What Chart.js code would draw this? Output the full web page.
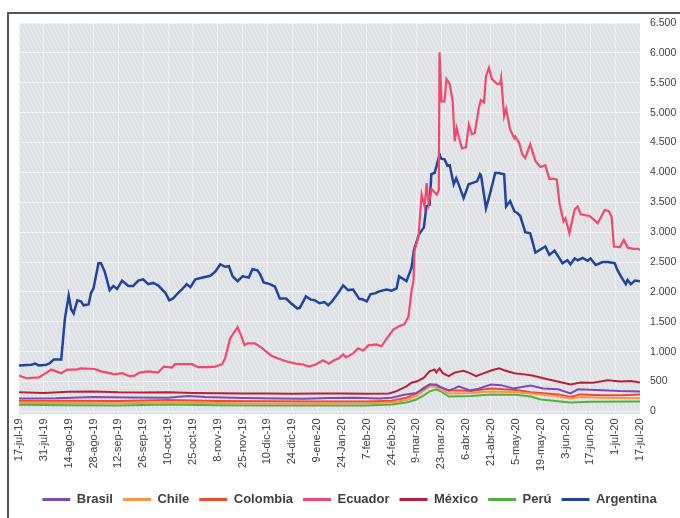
<!DOCTYPE html>
<html>
<head>
<meta charset="utf-8">
<script src="https://cdn.jsdelivr.net/npm/chart.js@4.4.0/dist/chart.umd.min.js"></script>
<style>
  html, body { margin: 0; padding: 0; background: #fff; }
  #wrap { position: relative; width: 680px; height: 518px; overflow: hidden; }
  #frame { position: absolute; left: 7px; top: 12px; width: 700px; height: 540px;
           border-left: 2px solid #555; border-top: 2px solid #555; }
  canvas { position: absolute; left: 0; top: 0; }
</style>
</head>
<body>
<div id="wrap">
  <div id="frame"></div>
  <canvas id="chart" width="680" height="518"></canvas>
</div>
<script>
// --- etiquetas del eje X (cada 10 días hábiles) ---
const dateLabels = ['17-jul-19','31-jul-19','14-ago-19','28-ago-19','12-sep-19','26-sep-19','10-oct-19','25-oct-19',
  '8-nov-19','25-nov-19','10-dic-19','24-dic-19','9-ene-20','24-Jan-20','7-feb-20','24-feb-20','9-mar-20',
  '23-mar-20','6-abr-20','21-abr-20','5-may-20','19-may-20','3-jun-20','17-jun-20','1-jul-20','17-jul-20'];

// --- series: [día hábil, puntos básicos] ---
const brasil = [[0,215],[15,220],[30,240],[45,235],[60,230],[68,260],[75,240],[90,225],[105,215],[115,210],[125,225],
  [135,230],[145,215],[150,230],[155,280],[160,310],[163,380],[165.3,450],[168,450],[170,400],[173,350],[175.4,385],
  [177,420],[181.5,350],[185,380],[190,450],[194,440],[199,385],[206,435],[211,385],[217,370],[222,300],[225,370],
  [237,350],[242,340],[250,335]];

const chile = [[0,140],[20,140],[40,135],[60,150],[80,140],[100,130],[120,130],[140,135],[150,150],[156,190],[160,260],
  [163,350],[165.3,420],[168,410],[170,360],[173,300],[182,310],[190,335],[200,320],[206,300],[217,255],[222,215],
  [226,240],[235,230],[250,220]];

const colombia = [[0,180],[20,180],[40,175],[60,190],[80,175],[100,170],[120,165],[140,165],[150,180],[156,230],
  [160,300],[163,400],[165.3,450],[168,440],[170,400],[173,350],[178,350],[182,340],[190,385],[200,360],[206,320],
  [217,285],[222,240],[226,285],[235,270],[243,270],[250,285]];

const ecuador = [[0,600],[3,555],[8,570],[10,620],[13,700],[15,670],[17,640],[19.5,700],[23,700],[25,720],[30.5,710],
  [33,670],[35.5,650],[38.5,620],[41.5,640],[44.5,590],[46.5,600],[48.5,650],[52,670],[56,650],[58.3,750],[61.6,735],
  [62.8,790],[67,790],[69.7,790],[72,740],[76,740],[79,750],[81.8,790],[83,890],[85,1220],[88,1410],[89.5,1260],
  [90.8,1110],[92,1140],[95,1140],[98,1055],[101.3,940],[104,890],[107.4,840],[111.4,800],[114.3,785],[116.7,750],
  [119.5,785],[122.4,855],[124.8,800],[126.8,855],[128.8,890],[130.5,955],[131.7,905],[134.5,970],[136.5,1055],
  [138.6,1020],[140.6,1105],[143.8,1120],[145.9,1090],[148.7,1256],[150.7,1370],[152.8,1420],[155.2,1460],
  [156.8,1590],[158,2010],[158.8,2180],[159.2,2680],[160.9,2960],[162.1,3630],[163.3,3430],[164.1,3820],
  [164.9,3480],[166.1,3720],[168.2,3630],[169,3700],[169.3,6010],[170.1,5190],[171.3,5190],[172.1,5560],
  [173.4,5480],[174.6,5190],[175.4,4520],[176.2,4740],[178.3,4400],[179.9,4420],[181.1,4800],[182.3,4640],
  [183.5,4660],[185.1,5075],[185.9,5210],[187.2,5170],[188,5610],[189.2,5750],[190.4,5560],[192.5,5480],
  [193.7,5480],[194.1,5580],[195.3,4940],[196.1,5060],[197.7,4720],[199.4,4570],[199.8,4600],[201.4,4490],
  [202.6,4300],[203.8,4240],[205.8,4470],[207.9,4190],[209.9,4090],[211.9,4120],[213.5,3890],[215.6,3890],
  [216.5,3880],[217.6,3480],[219.2,3180],[220,3230],[221.6,2980],[223.7,3380],[224.9,3430],[226.1,3300],
  [229.7,3270],[233,3150],[235.8,3370],[237.5,3350],[238.6,3250],[239.5,2760],[241.9,2750],[243.5,2870],
  [245.1,2740],[247.2,2720],[249.2,2720],[250,2700]];

const mexico = [[0,320],[10,310],[20,330],[30,335],[40,320],[50,315],[60,320],[70,310],[80,305],[90,300],[100,300],
  [110,295],[120,300],[130,300],[140,295],[149,300],[152,340],[156,420],[158,480],[160,500],[162.9,560],[165.3,670],
  [167.3,700],[168,650],[169.3,720],[170.6,640],[173,590],[175.4,650],[179,680],[181.5,640],[184,590],[187.2,640],
  [190.4,690],[193.3,720],[195.3,690],[199.4,640],[203.4,620],[206.6,600],[211.5,550],[216.8,500],[222,450],
  [226.1,485],[231,480],[237,520],[242.3,500],[246.3,510],[250,485]];

const peru = [[0,110],[20,105],[40,100],[60,115],[80,105],[100,100],[120,100],[140,100],[150,115],[156,150],[160,200],
  [163,270],[165.3,335],[168,370],[170,330],[173,250],[182,260],[190,285],[200,280],[206,250],[210,200],[222,150],
  [230,160],[250,165]];

const argentina = [[0,770],[5,780],[6.5,800],[8,770],[11,780],[12.5,810],[14,870],[17,870],[18.5,1560],[20,1940],
  [21,1710],[22,1640],[23.5,1860],[25,1840],[26,1775],[28,1790],[29,1980],[30,2060],[32,2480],[33,2480],[34.5,2340],
  [36.5,2030],[38,2100],[39.5,2050],[41.5,2190],[44,2100],[46,2100],[48,2190],[50,2210],[52,2130],[54,2150],
  [56,2110],[59,1980],[60.5,1860],[62,1890],[64,1980],[66,2060],[67.5,2130],[69,2080],[71,2210],[74,2240],
  [77,2270],[79,2340],[81,2460],[83,2420],[84.5,2430],[86,2260],[88,2180],[90,2260],[92.5,2240],[94,2380],
  [96,2360],[97,2300],[98.5,2160],[101,2130],[103,2090],[105,1890],[107.5,1890],[109.5,1810],[112,1725],
  [113,1730],[115.5,1925],[117.5,1870],[119,1860],[121,1810],[123,1830],[124.5,1775],[126,1840],[128.5,1980],
  [130.5,2110],[132.5,2030],[134.5,2040],[137,1880],[138,1880],[140,1840],[141.5,1960],[143.5,1980],[145,2010],
  [148,2040],[150,2020],[152,2060],[153,2260],[156,2180],[158,2400],[159,2700],[161,2960],[163,3080],[164,3430],
  [165.3,3460],[166,3970],[167.3,3990],[169.3,4300],[170,4230],[171.3,4220],[172.5,4110],[173.4,4120],[175,3800],
  [176,3900],[177,3800],[179,3570],[181,3800],[182.3,3820],[184.4,3850],[185.6,3970],[186,3950],[188,3400],
  [189.6,3640],[191.7,3990],[193,3990],[195.3,3970],[196.1,3430],[197.7,3520],[199.4,3350],[200.6,3320],
  [201.8,3270],[203.8,3000],[205.8,2980],[207.9,2660],[211.9,2760],[213.5,2620],[215.6,2690],[218.8,2480],
  [220.8,2530],[222,2460],[223.7,2560],[225,2530],[226.9,2570],[228.9,2520],[230.1,2560],[232.2,2450],[235,2500],
  [237,2500],[239.8,2480],[241,2360],[242.3,2260],[244.3,2130],[245,2200],[246.3,2130],[248,2190],[250,2180]];

// --- fondo rayado gris del área de trazado ---
function makeHatch() {
  const c = document.createElement('canvas');
  c.width = 4; c.height = 8;
  const g = c.getContext('2d');
  g.fillStyle = '#dde0e4';
  g.fillRect(0, 0, 4, 8);
  g.strokeStyle = '#eceef1';
  g.lineWidth = 1;
  g.beginPath();
  g.moveTo(-1, -2); g.lineTo(5, 10);
  g.moveTo(-5, -2); g.lineTo(1, 10);
  g.moveTo(3, -2); g.lineTo(9, 10);
  g.stroke();
  return c;
}

const hatchBg = {
  id: 'hatchBg',
  beforeDraw(chart) {
    const { ctx, chartArea: a } = chart;
    ctx.save();
    ctx.fillStyle = ctx.createPattern(makeHatch(), 'repeat');
    ctx.fillRect(a.left, a.top, a.right - a.left, a.bottom - a.top + 3);
    ctx.restore();
  }
};

function toPts(arr) { return arr.map(p => ({ x: p[0], y: p[1] })); }

function serie(label, arr, color, width) {
  return { label, data: toPts(arr), borderColor: color, backgroundColor: color,
           borderWidth: width, pointRadius: 0, tension: 0, fill: false };
}

const fmt = v => String(v).replace(/\B(?=(\d{3})+(?!\d))/g, '.');

new Chart(document.getElementById('chart'), {
  type: 'line',
  data: {
    datasets: [
      serie('Brasil', brasil, '#7d4bb8', 2),
      serie('Chile', chile, '#f7954a', 2),
      serie('Colombia', colombia, '#ef4a2c', 2),
      serie('Ecuador', ecuador, '#f2486b', 2.2),
      serie('México', mexico, '#b92038', 2),
      serie('Perú', peru, '#52b043', 2),
      serie('Argentina', argentina, '#1f45a0', 2.5)
    ]
  },
  options: {
    responsive: false,
    animation: false,
    layout: { padding: { left: 19, right: 0, top: 23, bottom: 2 } },
    plugins: {
      tooltip: { enabled: false },
      legend: {
        position: 'bottom',
        labels: {
          boxWidth: 28,
          boxHeight: 3,
          padding: 10,
          color: '#404040',
          font: { family: "'Liberation Sans', Arial, sans-serif", size: 13, weight: 'bold' },
          generateLabels(chart) {
            const items = Chart.defaults.plugins.legend.labels.generateLabels(chart);
            items.forEach(i => { i.lineWidth = 0; i.fillStyle = i.strokeStyle; });
            return items;
          }
        }
      }
    },
    scales: {
      x: {
        type: 'linear',
        min: 0, max: 250,
        grid: { color: 'rgba(255,255,255,0.4)', drawTicks: false },
        border: { display: false },
        afterFit(s) { s.height += 5; },
        ticks: {
          stepSize: 10,
          autoSkip: false,
          maxRotation: 90, minRotation: 90,
          padding: 7,
          color: '#404040',
          font: { family: "'Liberation Sans', Arial, sans-serif", size: 11 },
          callback: v => dateLabels[v / 10]
        }
      },
      y: {
        position: 'right',
        min: 0, max: 6500,
        grid: { color: 'rgba(255,255,255,0.55)', drawTicks: false },
        border: { display: false },
        afterFit(s) { s.width = 40; },
        ticks: {
          stepSize: 500,
          padding: 10,
          color: '#404040',
          font: { family: "'Liberation Sans', Arial, sans-serif", size: 10.5 },
          callback: v => fmt(v)
        }
      }
    }
  },
  plugins: [hatchBg]
});
</script>
</body>
</html>
